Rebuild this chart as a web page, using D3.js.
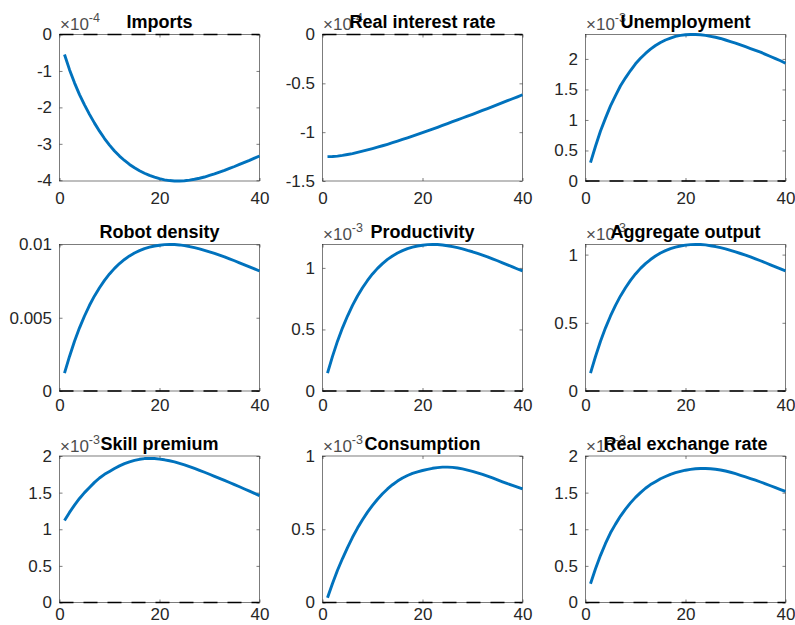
<!DOCTYPE html>
<html>
<head>
<meta charset="utf-8">
<script src="https://cdn.jsdelivr.net/npm/d3@7"></script>
<style>
  body { margin: 0; background: #fff; }
  svg { display: block; }
  text { font-family: "Liberation Sans", Arial, Helvetica, sans-serif; }
</style>
</head>
<body>
<svg id="fig" width="795" height="625"></svg>
<script>
// Impulse responses over a 40-period horizon (values in the units shown on each axis)
const titles = ["Imports", "Real interest rate", "Unemployment",
                "Robot density", "Productivity", "Aggregate output",
                "Skill premium", "Consumption", "Real exchange rate"];

const imports = [-0.550, -0.965, -1.327, -1.648, -1.930, -2.191, -2.432, -2.653, -2.854, -3.035,
                 -3.196, -3.337, -3.457, -3.566, -3.658, -3.739, -3.807, -3.867, -3.915, -3.956,
                 -3.988, -4.008, -4.020, -4.020, -4.012, -3.996, -3.972, -3.944, -3.911, -3.867,
                 -3.823, -3.775, -3.727, -3.674, -3.622, -3.566, -3.509, -3.453, -3.393, -3.333];

const realRate = [-1.250, -1.249, -1.245, -1.238, -1.229, -1.219, -1.207, -1.195, -1.182, -1.168,
                  -1.154, -1.139, -1.124, -1.108, -1.092, -1.075, -1.058, -1.041, -1.023, -1.005,
                  -0.987, -0.969, -0.950, -0.931, -0.912, -0.893, -0.874, -0.855, -0.836, -0.817,
                  -0.797, -0.777, -0.758, -0.738, -0.718, -0.698, -0.678, -0.658, -0.638, -0.617];

const unemployment = [0.300, 0.570, 0.820, 1.030, 1.230, 1.400, 1.560, 1.690, 1.810, 1.920,
                      2.010, 2.090, 2.160, 2.220, 2.270, 2.310, 2.340, 2.370, 2.385, 2.395,
                      2.400, 2.400, 2.395, 2.385, 2.370, 2.355, 2.335, 2.310, 2.285, 2.260,
                      2.230, 2.200, 2.170, 2.140, 2.110, 2.075, 2.040, 2.005, 1.970, 1.930];

const robotDensity = [0.00122, 0.00236, 0.00340, 0.00431, 0.00512, 0.00585, 0.00649, 0.00705, 0.00755, 0.00799,
                      0.00837, 0.00870, 0.00898, 0.00922, 0.00942, 0.00958, 0.00972, 0.00982, 0.00990, 0.00995,
                      0.00999, 0.01000, 0.01000, 0.00997, 0.00992, 0.00986, 0.00979, 0.00970, 0.00960, 0.00950,
                      0.00939, 0.00927, 0.00915, 0.00902, 0.00889, 0.00875, 0.00861, 0.00847, 0.00833, 0.00819];

const productivity = [0.145, 0.281, 0.405, 0.513, 0.609, 0.696, 0.772, 0.839, 0.898, 0.951,
                      0.996, 1.035, 1.069, 1.097, 1.121, 1.140, 1.157, 1.169, 1.178, 1.184,
                      1.189, 1.190, 1.190, 1.186, 1.180, 1.173, 1.165, 1.154, 1.142, 1.131,
                      1.117, 1.103, 1.089, 1.073, 1.058, 1.041, 1.025, 1.008, 0.991, 0.975];

const output = [0.131, 0.253, 0.365, 0.463, 0.550, 0.628, 0.697, 0.757, 0.811, 0.858,
                0.899, 0.934, 0.964, 0.990, 1.012, 1.029, 1.044, 1.055, 1.063, 1.069,
                1.073, 1.074, 1.074, 1.071, 1.065, 1.059, 1.051, 1.042, 1.031, 1.020,
                1.008, 0.996, 0.983, 0.969, 0.955, 0.940, 0.925, 0.910, 0.895, 0.880];

const skillPremium = [1.120, 1.230, 1.330, 1.420, 1.500, 1.570, 1.640, 1.700, 1.750, 1.790,
                      1.830, 1.865, 1.895, 1.920, 1.940, 1.955, 1.965, 1.968, 1.965, 1.958,
                      1.948, 1.935, 1.920, 1.900, 1.880, 1.856, 1.831, 1.805, 1.778, 1.751,
                      1.723, 1.695, 1.667, 1.638, 1.609, 1.580, 1.550, 1.520, 1.490, 1.460];

const consumption = [0.032, 0.130, 0.220, 0.300, 0.375, 0.445, 0.508, 0.565, 0.617, 0.663,
                     0.705, 0.742, 0.775, 0.804, 0.829, 0.850, 0.867, 0.881, 0.892, 0.901,
                     0.909, 0.916, 0.921, 0.924, 0.924, 0.922, 0.918, 0.912, 0.904, 0.895,
                     0.885, 0.874, 0.862, 0.850, 0.837, 0.824, 0.811, 0.799, 0.787, 0.775];

const realExchange = [0.257, 0.460, 0.644, 0.806, 0.952, 1.070, 1.180, 1.275, 1.360, 1.435,
                      1.500, 1.560, 1.610, 1.650, 1.690, 1.720, 1.750, 1.772, 1.790, 1.806,
                      1.818, 1.826, 1.830, 1.830, 1.826, 1.819, 1.809, 1.795, 1.778, 1.758,
                      1.737, 1.715, 1.692, 1.669, 1.645, 1.620, 1.594, 1.568, 1.542, 1.516];

const series = [imports, realRate, unemployment, robotDensity, productivity, output,
                skillPremium, consumption, realExchange];

const yLimits = [[-4.02, 0], [-1.5, 0], [0, 2.4], [0, 0.01], [0, 1.19], [0, 1.074],
                 [0, 2], [0, 1], [0, 2]];
const yTicks = [[-4, -3, -2, -1, 0], [-1.5, -1, -0.5, 0], [0, 0.5, 1, 1.5, 2],
                [0, 0.005, 0.01], [0, 0.5, 1], [0, 0.5, 1],
                [0, 0.5, 1, 1.5, 2], [0, 0.5, 1], [0, 0.5, 1, 1.5, 2]];
const exponents = ["-4", "-4", "-3", null, "-3", "-3", "-3", "-3", "-3"];
const xTicks = [0, 20, 40];
const xLimits = [0, 40];
const periods = d3.range(1, 41);

// Subplot grid geometry
const colLeft = [59.5, 322.5, 585.5];
const rowTop = [34.5, 244.5, 456];
const W = 200, H = 146.5;
const xLabelPad = [11, 7.5, 5];   // gap between lower axis and its labels, per row

const svg = d3.select("#fig");
svg.append("rect").attr("width", 795).attr("height", 625).attr("fill", "#fff");

const axisColor = "#262626";
const lineBlue = "#0072BD";

series.forEach((vals, i) => {
  const row = Math.floor(i / 3);
  const left = colLeft[i % 3], top = rowTop[row];
  const g = svg.append("g").attr("transform", `translate(${left},${top})`);

  const x = d3.scaleLinear().domain(xLimits).range([0, W]);
  const y = d3.scaleLinear().domain(yLimits[i]).range([H, 0]);

  // axes box
  g.append("rect").attr("width", W).attr("height", H)
    .attr("fill", "none").attr("stroke", axisColor).attr("stroke-width", 0.6);

  // inward tick marks on all four sides, labels on left and bottom
  const styleAxis = sel => {
    sel.select(".domain").remove();
    sel.selectAll(".tick line").attr("stroke", axisColor).attr("stroke-width", 0.6);
    sel.selectAll("text").attr("fill", axisColor).attr("font-size", 17);
    sel.attr("font-family", null).attr("font-size", 17);
  };
  g.append("g").call(d3.axisLeft(y).tickValues(yTicks[i]).tickSize(-3).tickPadding(7.5)
      .tickFormat(d => String(d))).call(styleAxis);
  g.append("g").attr("transform", `translate(${W},0)`)
    .call(d3.axisRight(y).tickValues(yTicks[i]).tickSize(-3).tickFormat("")).call(styleAxis);
  g.append("g").attr("transform", `translate(0,${H})`)
    .call(d3.axisBottom(x).tickValues(xTicks).tickSize(-3).tickPadding(xLabelPad[row])
      .tickFormat(d => String(d))).call(styleAxis);
  g.append("g")
    .call(d3.axisTop(x).tickValues(xTicks).tickSize(-3).tickFormat("")).call(styleAxis);

  // zero reference line
  g.append("line")
    .attr("x1", x(xLimits[0])).attr("x2", x(xLimits[1]))
    .attr("y1", y(0)).attr("y2", y(0))
    .attr("stroke", "#000").attr("stroke-width", 1.6)
    .attr("stroke-dasharray", "14,10");

  // response path
  const line = d3.line().x((d, k) => x(periods[k])).y(d => y(d)).curve(d3.curveLinear);
  g.append("path").datum(vals).attr("d", line)
    .attr("fill", "none").attr("stroke", lineBlue).attr("stroke-width", 2.9)
    .attr("stroke-linejoin", "round").attr("stroke-linecap", "butt");

  // axis exponent
  if (exponents[i]) {
    const t = g.append("text").attr("x", 0.5).attr("y", -4.5)
      .attr("fill", "#4d4d4d").attr("font-size", 17);
    t.append("tspan").text("\u00d710");
    t.append("tspan").attr("dy", -8).attr("font-size", 12.5).text(exponents[i]);
  }

  // panel title
  g.append("text").attr("x", W / 2).attr("y", -6.5)
    .attr("text-anchor", "middle").attr("font-weight", "bold")
    .attr("font-size", 18).attr("fill", "#000").text(titles[i]);
});
</script>
</body>
</html>
